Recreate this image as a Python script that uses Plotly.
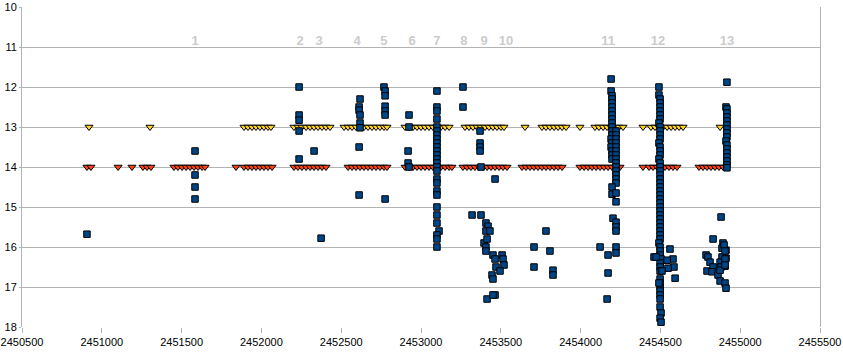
import plotly.graph_objects as go

# Epoch labels at the top of the chart
label_text = ["1", "2", "3", "4", "5", "6", "7", "8", "9", "10", "11", "12", "13"]
label_jd = [2451584, 2452242, 2452361, 2452599, 2452768, 2452944, 2453100,
            2453269, 2453395, 2453533, 2454172, 2454485, 2454917]
label_mag = [10.875] * len(label_text)

# Yellow down-triangles (limits at 13 mag)
yellow_jd = [2450920, 2451302,
             2451891, 2451916, 2451941, 2451966, 2451991, 2452016, 2452041, 2452060,
             2452204, 2452229, 2452254, 2452280, 2452305, 2452330, 2452355, 2452380, 2452405, 2452430,
             2452518, 2452543, 2452568, 2452593, 2452618, 2452643, 2452668, 2452693, 2452718, 2452743, 2452768, 2452787,
             2452900, 2452925, 2452950, 2452975, 2453000, 2453025, 2453050, 2453075, 2453100, 2453125, 2453151, 2453176,
             2453276, 2453301, 2453326, 2453351, 2453376, 2453401, 2453426, 2453451, 2453476, 2453501, 2453520,
             2453652,
             2453758, 2453783, 2453808, 2453834, 2453859, 2453884, 2453909,
             2453996,
             2454090, 2454115, 2454141, 2454166, 2454191, 2454216, 2454241, 2454266,
             2454391,
             2454441, 2454466, 2454491, 2454517, 2454542, 2454567, 2454592, 2454617, 2454642,
             2454874]
yellow_mag = [13.0] * len(yellow_jd)

# Orange down-triangles (limits at 14 mag)
orange_jd = [2450907, 2450932, 2451102, 2451189, 2451258, 2451283, 2451308,
             2451452, 2451477, 2451503, 2451528, 2451553, 2451578, 2451603, 2451628, 2451647,
             2451841,
             2451891, 2451916, 2451941, 2451966, 2451991, 2452016, 2452041, 2452067,
             2452204, 2452229, 2452254, 2452280, 2452305, 2452330, 2452355, 2452380, 2452405,
             2452543, 2452568, 2452593, 2452618, 2452643, 2452668, 2452693, 2452718, 2452743, 2452768, 2452787,
             2452900, 2452925, 2452950, 2452975, 2453000, 2453025, 2453050, 2453075, 2453100, 2453125, 2453151, 2453176, 2453194,
             2453263, 2453288, 2453313, 2453338, 2453364, 2453389, 2453414, 2453439, 2453464, 2453489, 2453514, 2453539,
             2453633, 2453658, 2453683, 2453708, 2453733, 2453758, 2453783, 2453808, 2453834, 2453859, 2453884,
             2453996, 2454022, 2454047, 2454072, 2454097, 2454122, 2454147, 2454172, 2454197, 2454222, 2454247,
             2454391,
             2454429, 2454454, 2454479, 2454504, 2454529, 2454554, 2454579, 2454604,
             2454742, 2454767, 2454792, 2454817, 2454842, 2454867, 2454893]
orange_mag = [14.0] * len(orange_jd)

# Blue squares (measured magnitudes), (JD, mag)
blue_points = [
    (2450907, 15.68),
    (2451584, 13.6), (2451584, 14.2), (2451584, 14.5), (2451584, 14.8),
    (2452236, 12.0), (2452236, 12.7), (2452236, 12.83), (2452236, 13.1), (2452236, 13.8),
    (2452330, 13.6), (2452374, 15.78),
    (2452618, 12.3), (2452612, 12.5), (2452612, 12.58), (2452618, 12.7), (2452618, 12.9),
    (2452618, 13.02), (2452612, 13.5), (2452612, 14.7),
    (2452768, 12.0), (2452775, 12.1), (2452775, 12.22), (2452775, 12.48), (2452775, 12.6),
    (2452775, 12.7), (2452775, 14.8),
    (2452925, 12.7), (2452925, 13.0), (2452919, 13.6), (2452919, 13.9), (2452925, 14.0),
    (2453100, 12.1), (2453100, 12.5), (2453100, 12.6), (2453100, 12.8), (2453100, 13.0),
    (2453100, 13.1), (2453100, 13.2), (2453100, 13.3), (2453100, 13.4), (2453100, 13.5),
    (2453100, 13.6), (2453100, 13.7), (2453100, 13.8), (2453100, 13.9), (2453100, 14.0),
    (2453100, 14.1), (2453100, 14.3), (2453100, 14.4), (2453100, 14.6), (2453100, 14.7),
    (2453100, 15.0), (2453100, 15.2), (2453100, 15.4), (2453113, 15.6), (2453100, 15.7),
    (2453100, 15.8), (2453100, 16.0),
    (2453263, 12.0), (2453263, 12.5),
    (2453370, 13.1), (2453370, 13.4), (2453370, 13.5), (2453370, 13.6), (2453376, 14.0),
    (2453464, 14.3),
    (2453320, 15.2), (2453376, 15.2), (2453407, 15.4), (2453420, 15.48), (2453407, 15.6),
    (2453432, 15.6), (2453395, 15.9), (2453414, 15.8), (2453407, 16.0), (2453407, 16.1),
    (2453451, 16.2), (2453464, 16.3), (2453508, 16.2), (2453514, 16.3), (2453520, 16.45),
    (2453470, 16.5), (2453495, 16.6), (2453445, 16.7), (2453451, 16.8), (2453464, 17.2),
    (2453414, 17.3), (2453451, 17.2),
    (2453708, 16.0), (2453783, 15.6), (2453808, 16.1), (2453708, 16.5), (2453827, 16.58),
    (2453827, 16.7),
    (2454191, 11.8), (2454191, 12.1), (2454197, 12.22), (2454197, 12.3), (2454197, 12.4),
    (2454197, 12.5), (2454197, 12.6), (2454197, 12.7), (2454197, 12.8), (2454197, 12.9),
    (2454197, 13.0), (2454197, 13.1), (2454197, 13.2), (2454191, 13.3), (2454197, 13.4),
    (2454191, 13.5), (2454197, 13.6), (2454197, 13.7), (2454197, 13.8),
    (2454222, 13.1), (2454222, 13.2), (2454222, 13.3), (2454222, 13.4), (2454222, 13.5),
    (2454222, 13.6), (2454222, 13.7), (2454222, 13.8), (2454222, 13.9), (2454222, 14.0),
    (2454222, 14.1), (2454222, 14.2), (2454222, 14.3), (2454222, 14.4),
    (2454197, 14.5), (2454197, 14.68), (2454222, 14.65), (2454222, 14.87),
    (2454203, 15.28), (2454222, 15.38), (2454222, 15.5), (2454222, 15.6), (2454122, 16.0),
    (2454222, 16.0), (2454222, 16.15), (2454172, 16.2), (2454172, 16.65), (2454166, 17.3),
    (2454491, 12.0), (2454491, 12.2), (2454498, 12.3), (2454498, 12.4), (2454498, 12.5),
    (2454498, 12.6), (2454498, 12.7), (2454498, 12.8), (2454491, 12.9), (2454498, 13.0),
    (2454498, 13.1), (2454498, 13.2), (2454498, 13.3), (2454491, 13.4), (2454498, 13.5),
    (2454498, 13.6), (2454498, 13.7), (2454491, 13.8), (2454498, 13.9), (2454498, 14.0),
    (2454498, 14.1), (2454498, 14.2), (2454498, 14.3), (2454498, 14.4), (2454498, 14.5),
    (2454498, 14.6), (2454498, 14.7), (2454498, 14.8), (2454498, 14.9), (2454498, 15.0),
    (2454498, 15.1), (2454498, 15.2), (2454498, 15.3), (2454498, 15.4), (2454498, 15.5),
    (2454498, 15.6), (2454498, 15.7), (2454498, 15.8), (2454491, 15.9), (2454498, 16.0),
    (2454498, 16.1), (2454498, 16.2), (2454504, 16.3), (2454498, 16.4), (2454498, 16.5),
    (2454498, 16.6), (2454498, 16.8), (2454498, 16.9), (2454498, 17.0), (2454498, 17.1),
    (2454498, 17.2), (2454498, 17.3), (2454498, 17.5), (2454504, 17.65), (2454498, 17.78),
    (2454504, 17.88),
    (2454460, 16.25), (2454473, 16.25), (2454560, 16.05), (2454579, 16.3), (2454585, 16.5),
    (2454548, 16.53), (2454542, 16.33), (2454592, 16.78), (2454510, 16.6), (2454491, 16.9),
    (2454917, 11.88),
    (2454911, 12.5), (2454917, 12.55), (2454917, 12.65), (2454917, 12.75), (2454917, 12.85),
    (2454917, 12.95), (2454917, 13.05), (2454917, 13.15), (2454917, 13.25), (2454911, 13.35),
    (2454917, 13.45), (2454917, 13.55), (2454917, 13.65), (2454917, 13.75), (2454917, 13.85),
    (2454917, 13.95), (2454917, 14.02),
    (2454880, 15.25), (2454830, 15.8), (2454892, 15.9), (2454911, 16.08), (2454911, 16.28),
    (2454905, 16.48), (2454786, 16.2), (2454798, 16.25), (2454811, 16.38), (2454830, 16.5),
    (2454792, 16.6), (2454823, 16.62), (2454861, 16.7), (2454874, 16.85), (2454905, 16.9),
    (2454911, 17.03), (2454886, 16.03), (2454886, 16.25), (2454874, 16.38), (2454880, 16.5),
    (2454874, 16.58), (2454899, 15.95), (2454905, 16.1), (2454905, 16.3), (2454905, 16.45),
]
blue_jd = [p[0] for p in blue_points]
blue_mag = [p[1] for p in blue_points]

x_ticks = [2450500, 2451000, 2451500, 2452000, 2452500, 2453000,
           2453500, 2454000, 2454500, 2455000, 2455500]
y_ticks = [10, 11, 12, 13, 14, 15, 16, 17, 18]

fig = go.Figure()
fig.add_trace(go.Scatter(x=yellow_jd, y=yellow_mag, mode="markers",
                         marker=dict(symbol="triangle-down", size=7, color="#ffd320",
                                     line=dict(color="#000000", width=1))))
fig.add_trace(go.Scatter(x=orange_jd, y=orange_mag, mode="markers",
                         marker=dict(symbol="triangle-down", size=7, color="#ff420e",
                                     line=dict(color="#000000", width=1))))
fig.add_trace(go.Scatter(x=blue_jd, y=blue_mag, mode="markers",
                         marker=dict(symbol="square", size=6.5, color="#004586",
                                     line=dict(color="#000000", width=1))))
fig.add_trace(go.Scatter(x=label_jd, y=label_mag, mode="text", text=label_text,
                         textfont=dict(family="Liberation Sans", size=13, color="#cccccc",
                                       weight="bold")))

fig.update_layout(
    width=843, height=352,
    margin=dict(l=22, r=23, t=7, b=25, autoexpand=False),
    paper_bgcolor="white", plot_bgcolor="white",
    showlegend=False,
    font=dict(family="Liberation Sans", size=11, color="#000000"),
)
fig.update_xaxes(range=[2450500, 2455500], tickvals=x_ticks, tickformat="d",
                 showgrid=False, zeroline=False, showline=False, automargin=False,
                 ticks="outside", ticklen=5, tickcolor="#b3b3b3",
                 tickfont=dict(size=11, color="#000000"))
fig.update_yaxes(range=[18, 10], tickvals=y_ticks, showgrid=True, gridcolor="#b3b3b3",
                 gridwidth=1, zeroline=False, showline=True, linecolor="#b3b3b3",
                 mirror=True, ticks="outside", ticklen=2, tickcolor="#b3b3b3",
                 automargin=False, tickfont=dict(size=11, color="#000000"))

fig.write_html("out.html")
